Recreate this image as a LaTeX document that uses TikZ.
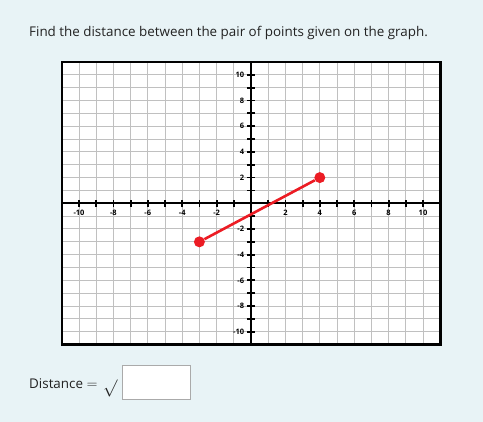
\documentclass[tikz,border=0pt]{standalone}
\usepackage{fontspec}
\setmainfont{Open Sans}
\definecolor{bgblue}{RGB}{232,243,246}
\definecolor{gridgray}{RGB}{192,192,192}
\definecolor{segred}{RGB}{236,28,36}
\definecolor{boxgray}{RGB}{170,170,170}
\definecolor{txt}{RGB}{34,34,34}

\begin{document}
\begin{tikzpicture}[x=1pt,y=-1pt,
        ticklbl/.style={inner sep=0pt,font=\fontsize{7.5}{8}\bfseries\selectfont},
        ptdot/.style={circle,fill=segred,inner sep=0pt,minimum size=11pt},
        txtnode/.style={inner sep=0pt,text=txt,font=\fontsize{13.4}{15}\selectfont}]
        \fill[bgblue](0,0)rectangle(483,422);
        \useasboundingbox(0,0)rectangle(483,422);
        \node[txtnode,anchor=west](question)at(29,33){Find the distance between the pair of points given on the graph.};

        \begin{scope}[shift={(251pt,-203.3pt)},x=17.2pt,y=12.85pt]
        \fill[white](-11,-11)rectangle(11,11);
        \foreach \i in {-10,...,10}{
                \draw[gridgray,line width=1pt](\i,-11)--(\i,11);
                \draw[gridgray,line width=1pt](-11,\i)--(11,\i);
        }
        \draw[line width=2.6pt](-11,-11)rectangle(11,11);
        \draw[line width=2pt](-11,0)--(11,0);
        \draw[line width=2pt](0,-11)--(0,11);
        \foreach \i in {-10,...,-1,1,2,...,10}{
                \draw[line width=1.8pt](\i,-0.27)--(\i,0.27);
                \draw[line width=1.8pt](-0.22,\i)--(0.22,\i);
        }
        \foreach \i in {-10,-8,-6,-4,-2,2,4,6,8,10}{
                \node[ticklbl](xl\i)at(\i,-0.77){\i};
                \node[ticklbl,anchor=east](yl\i)at(-0.39,\i){\i};
        }
        \node[ptdot](P)at(-3,-3){};
        \node[ptdot](Q)at(4,2){};
        \draw[segred,line width=2.6pt](P)--(Q);
        \end{scope}

        \node[txtnode,anchor=west](dist)at(29,384){Distance $=$};
        \node[inner sep=0pt,text=txt,font=\fontsize{17}{18}\selectfont,anchor=south west](root)at(103,397){$\surd$};
        \node[draw=boxgray,fill=white,line width=1pt,minimum width=68pt,minimum height=34pt,inner sep=0pt,anchor=north west](ans)at(122,365){};
\end{tikzpicture}
\end{document}
